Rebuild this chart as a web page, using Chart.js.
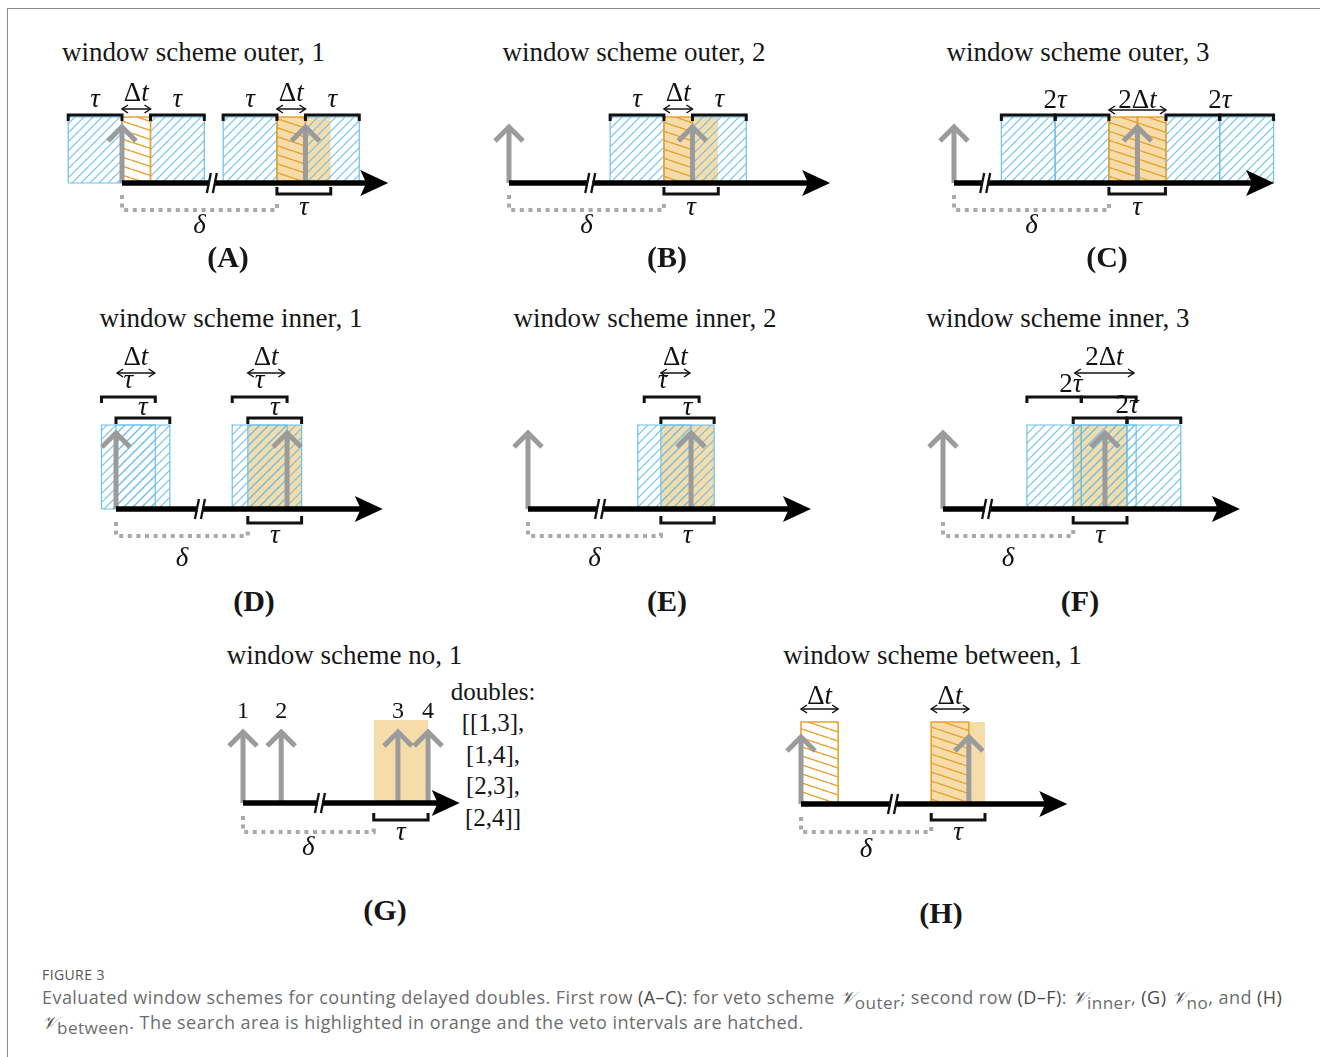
<!DOCTYPE html>
<html>
<head>
<meta charset="utf-8">
<title>Window schemes for delayed doubles</title>
<script src="https://cdn.jsdelivr.net/npm/chart.js@4.4.1/dist/chart.umd.min.js"></script>
<style>
  html, body { margin: 0; padding: 0; background: #fff; }
  #fig { position: relative; width: 1320px; height: 1057px; overflow: hidden; background: #fff; }
  #frame { position: absolute; left: 7px; top: 8px; width: 1320px; height: 1060px;
           border-left: 1px solid #8c8c8c; border-top: 1px solid #8c8c8c; }
  #fig canvas { position: absolute; }
  .title, .tag { position: absolute; line-height: 1; white-space: nowrap; transform: translateX(-50%);
                 font-family: "Liberation Serif", "DejaVu Serif", serif; color: #161616; }
  .tag { font-weight: bold; }
  #doubles { position: absolute; font-family: "Liberation Serif", serif; font-size: 25px; line-height: 31.5px;
             text-align: center; color: #161616; transform: translateX(-50%); white-space: nowrap; }
  #fignum { position: absolute; left: 42px; top: 968px; font-family: "Open Sans", sans-serif; font-size: 14px;
            line-height: 1; letter-spacing: 0.4px; color: #555; }
  #captext { position: absolute; left: 42px; top: 985px; width: 1270px; font-family: "Open Sans", sans-serif;
             font-size: 18px; letter-spacing: 0.45px; line-height: 24px; color: #6d6d6d; white-space: nowrap; }
  #captext b { font-weight: normal; color: #4a4a4a; }
  #captext .v { font-family: "DejaVu Serif", "Liberation Serif", serif; font-style: italic; color: #555; letter-spacing: 0; }
  #captext sub { font-size: 0.95em; vertical-align: -0.3em; line-height: 0; }
</style>
</head>
<body>
<div id="fig">
  <div id="frame"></div>
  <div id="doubles">doubles:<br>[[1,3],<br>[1,4],<br>[2,3],<br>[2,4]]</div>
  <div id="fignum">FIGURE 3</div>
  <div id="captext">Evaluated window schemes for counting delayed doubles. First row <b>(A–C)</b>: for veto scheme <span class="v">𝒱</span><sub>outer</sub>; second row <b>(D–F)</b>: <span class="v">𝒱</span><sub>inner</sub>, <b>(G)</b> <span class="v">𝒱</span><sub>no</sub>, and <b>(H)</b><br><span class="v">𝒱</span><sub>between</sub>. The search area is highlighted in orange and the veto intervals are hatched.</div>
</div>
<script>
// Times are given in units of the window length τ; the first event of every panel sits at t = 0.
// Spans are [start, end]; labelled spans are [start, end, text].

// (A) window scheme outer, 1
const outer1Events   = [0, 3.41];
const outer1Veto     = [[-1, 0], [0.53, 1.53], [1.88, 2.88], [3.41, 4.41]];
const outer1VetoDt   = [[0, 0.53], [2.88, 3.41]];
const outer1Search   = [[2.88, 3.88]];
const outer1Brackets = [[[-1, 0], [0.53, 1.53], [1.88, 2.88], [3.41, 4.41]]];
const outer1BracketLabels = [[[-1, 0, 'τ'], [0.53, 1.53, 'τ'], [1.88, 2.88, 'τ'], [3.41, 4.41, 'τ']]];
const outer1Dt       = [[0, 0.53, 'Δt'], [2.88, 3.41, 'Δt']];
const outer1Axis     = [0, 4.80];
const outer1Break    = 1.67;
const outer1Delay    = [0, 2.88];

// (B) window scheme outer, 2
const outer2Events   = [0, 3.41];
const outer2Veto     = [[1.88, 2.88], [3.41, 4.41]];
const outer2VetoDt   = [[2.88, 3.41]];
const outer2Search   = [[2.88, 3.89]];
const outer2Brackets = [[[1.88, 2.88], [3.41, 4.41]]];
const outer2BracketLabels = [[[1.88, 2.88, 'τ'], [3.41, 4.41, 'τ']]];
const outer2Dt       = [[2.88, 3.41, 'Δt']];
const outer2Axis     = [0, 5.82];
const outer2Break    = 1.51;
const outer2Delay    = [0, 2.88];

// (C) window scheme outer, 3
const outer3Events   = [0, 3.41];
const outer3Veto     = [[0.88, 1.88], [1.88, 2.88], [3.94, 4.94], [4.94, 5.94]];
const outer3VetoDt   = [[2.88, 3.41], [3.41, 3.94]];
const outer3Search   = [[2.88, 3.93]];
const outer3Brackets = [[[0.88, 1.88], [1.88, 2.88], [3.94, 4.94], [4.94, 5.94]]];
const outer3BracketLabels = [[[0.88, 2.88, '2τ'], [3.94, 5.94, '2τ']]];
const outer3Dt       = [[2.88, 3.94, '2Δt']];
const outer3Axis     = [0, 5.80];
const outer3Break    = 0.58;
const outer3Delay    = [0, 2.88];

// (D) window scheme inner, 1
const inner1Events   = [0, 3.18];
const inner1Veto     = [[-0.27, 0.73], [0, 1.0], [2.16, 3.18], [2.45, 3.45]];
const inner1VetoDt   = [];
const inner1Search   = [[2.45, 3.45]];
const inner1Brackets = [[[-0.27, 0.73], [2.16, 3.18]], [[0, 1.0], [2.45, 3.45]]];
const inner1BracketLabels = [[[-0.27, 0.73, 'τ'], [2.16, 3.18, 'τ']], [[0, 1.0, 'τ'], [2.45, 3.45, 'τ']]];
const inner1Dt       = [[0.02, 0.72, 'Δt'], [2.45, 3.13, 'Δt']];
const inner1Axis     = [0, 4.81];
const inner1Break    = 1.56;
const inner1Delay    = [0, 2.45];

// (E) window scheme inner, 2
const inner2Events   = [0, 3.03];
const inner2Veto     = [[2.04, 3.03], [2.47, 3.46]];
const inner2VetoDt   = [];
const inner2Search   = [[2.47, 3.46]];
const inner2Brackets = [[[2.16, 3.18]], [[2.47, 3.46]]];
const inner2BracketLabels = [[[2.0, 3.0, 'τ']], [[2.47, 3.46, 'τ']]];
const inner2Dt       = [[2.47, 3.01, 'Δt']];
const inner2Axis     = [0, 5.11];
const inner2Break    = 1.34;
const inner2Delay    = [0, 2.47];

// (F) window scheme inner, 3
const inner3Events   = [0, 3.01];
const inner3Veto     = [[1.56, 2.57], [2.57, 3.59], [2.42, 3.42], [3.42, 4.42]];
const inner3VetoDt   = [];
const inner3Search   = [[2.42, 3.42]];
const inner3Brackets = [[[1.56, 2.57], [2.57, 3.59]], [[2.42, 3.42], [3.42, 4.42]]];
const inner3BracketLabels = [[[1.36, 3.39, '2τ']], [[2.42, 4.42, '2τ']]];
const inner3Dt       = [[2.45, 3.55, '2Δt']];
const inner3Axis     = [0, 5.37];
const inner3Break    = 0.82;
const inner3Delay    = [0, 2.42];

// (G) window scheme no, 1
const noEvents       = [0, 0.71, 2.88, 3.44];
const noEventLabels  = ['1', '2', '3', '4'];
const noSearch       = [[2.43, 3.44]];
const noAxis         = [0, 3.88];
const noBreak        = 1.43;
const noDelay        = [0, 2.43];

// (H) window scheme between, 1
const betweenEvents  = [0, 3.12];
const betweenVetoDt  = [[0, 0.69], [2.42, 3.12]];
const betweenSearch  = [[2.42, 3.42]];
const betweenDt      = [[0, 0.69, 'Δt'], [2.42, 3.12, 'Δt']];
const betweenAxis    = [0, 4.80];
const betweenBreak   = 1.71;
const betweenDelay   = [0, 2.42];

// ---------------------------------------------------------------------------
// Drawing setup

const TAU_PX = 53.8;                 // pixels per τ on every time axis
const MATH_SIZE = 27;                // font size of the τ / Δt / δ labels
const BLUE = '#6cc0ea';
const ORANGE = '#e8a232';
const SEARCH_FILL = '#f6dca9';
const GREY = '#9b9b9b';
const DASH_GREY = '#a9a9a9';
const INK = '#111';

// Vertical placement of the drawing elements, in px above (+) / below (-) the time axis
const rowOuter = { rect: 66, tip: 56, br: [68], brText: [76], dt: 74, dtText: 82,
                   bot: -11, botText: -32, delay: -27, delayL: -12, delayR: -19, deltaText: -50 };
const rowOuter3 = Object.assign({}, rowOuter, { dt: 73, dtText: 75, brText: [75] });
const rowInner = { rect: 84, tip: 76, br: [112, 91], brText: [121, 94], dt: 136, dtText: 144,
                   bot: -14, botText: -34, delay: -27, delayL: -13, delayR: -19, deltaText: -57 };
const rowInner3 = Object.assign({}, rowInner, { brText: [117, 96] });
const rowNo = { rect: 83, tip: 71, numText: 85, br: [], brText: [], dt: 0, dtText: 0,
                bot: -17, botText: -37, delay: -29, delayL: -13, delayR: -21, deltaText: -52 };
const rowBetween = { rect: 82, tip: 67, br: [], brText: [], dt: 95, dtText: 100,
                     bot: -16, botText: -36, delay: -28, delayL: -13, delayR: -20, deltaText: -53 };

const panels = [
  { title: 'window scheme outer, 1', tag: '(A)', box: [50, 70, 350, 175], origin: 122, axisY: 183, g: rowOuter,
    titleAt: [193.5, 62], tagAt: [228, 267],
    events: outer1Events, veto: outer1Veto, vetoDt: outer1VetoDt, search: outer1Search,
    brackets: outer1Brackets, bracketLabels: outer1BracketLabels, dt: outer1Dt,
    axis: outer1Axis, breakAt: outer1Break, delay: outer1Delay },
  { title: 'window scheme outer, 2', tag: '(B)', box: [480, 70, 370, 175], origin: 509, axisY: 183, g: rowOuter,
    titleAt: [634, 62], tagAt: [667, 267],
    events: outer2Events, veto: outer2Veto, vetoDt: outer2VetoDt, search: outer2Search,
    brackets: outer2Brackets, bracketLabels: outer2BracketLabels, dt: outer2Dt,
    axis: outer2Axis, breakAt: outer2Break, delay: outer2Delay },
  { title: 'window scheme outer, 3', tag: '(C)', box: [925, 70, 372, 175], origin: 954, axisY: 183, g: rowOuter3,
    titleAt: [1078, 62], tagAt: [1107, 267],
    events: outer3Events, veto: outer3Veto, vetoDt: outer3VetoDt, search: outer3Search,
    brackets: outer3Brackets, bracketLabels: outer3BracketLabels, dt: outer3Dt,
    axis: outer3Axis, breakAt: outer3Break, delay: outer3Delay },
  { title: 'window scheme inner, 1', tag: '(D)', box: [80, 335, 320, 245], origin: 116, axisY: 509, g: rowInner,
    titleAt: [231, 328], tagAt: [254, 611],
    events: inner1Events, veto: inner1Veto, vetoDt: inner1VetoDt, search: inner1Search,
    brackets: inner1Brackets, bracketLabels: inner1BracketLabels, dt: inner1Dt,
    axis: inner1Axis, breakAt: inner1Break, delay: inner1Delay },
  { title: 'window scheme inner, 2', tag: '(E)', box: [495, 335, 330, 245], origin: 528, axisY: 509, g: rowInner,
    titleAt: [645, 328], tagAt: [667, 611],
    events: inner2Events, veto: inner2Veto, vetoDt: inner2VetoDt, search: inner2Search,
    brackets: inner2Brackets, bracketLabels: inner2BracketLabels, dt: inner2Dt,
    axis: inner2Axis, breakAt: inner2Break, delay: inner2Delay },
  { title: 'window scheme inner, 3', tag: '(F)', box: [910, 335, 345, 245], origin: 943, axisY: 509, g: rowInner3,
    titleAt: [1058, 328], tagAt: [1080, 611],
    events: inner3Events, veto: inner3Veto, vetoDt: inner3VetoDt, search: inner3Search,
    brackets: inner3Brackets, bracketLabels: inner3BracketLabels, dt: inner3Dt,
    axis: inner3Axis, breakAt: inner3Break, delay: inner3Delay },
  { title: 'window scheme no, 1', tag: '(G)', box: [220, 695, 260, 170], origin: 243, axisY: 803, g: rowNo,
    titleAt: [344.5, 665], tagAt: [385, 920],
    events: noEvents, eventLabels: noEventLabels, veto: [], vetoDt: [], search: noSearch,
    brackets: [], bracketLabels: [], dt: [],
    axis: noAxis, breakAt: noBreak, delay: noDelay },
  { title: 'window scheme between, 1', tag: '(H)', box: [775, 675, 310, 190], origin: 801, axisY: 804, g: rowBetween,
    titleAt: [932.5, 665], tagAt: [941, 923],
    events: betweenEvents, veto: [], vetoDt: betweenVetoDt, search: betweenSearch,
    brackets: [], bracketLabels: [], dt: betweenDt,
    axis: betweenAxis, breakAt: betweenBreak, delay: betweenDelay }
];

// ---------------------------------------------------------------------------
// Hatch patterns

function makePattern(w, h, color, lineW, segs) {
  const c = document.createElement('canvas');
  c.width = w; c.height = h;
  const x = c.getContext('2d');
  x.strokeStyle = color; x.lineWidth = lineW; x.lineCap = 'butt';
  segs.forEach(([x0, y0, x1, y1]) => { x.beginPath(); x.moveTo(x0, y0); x.lineTo(x1, y1); x.stroke(); });
  return x.createPattern(c, 'repeat');
}
// "/" hatching for veto windows
const bluePattern = makePattern(9, 9, BLUE, 1.1,
  [[-9, 9, 0, 0], [0, 9, 9, 0], [9, 9, 18, 0], [-2, 2, 2, -2], [7, 11, 11, 7]]);
// shallow "\" hatching for the Δt veto
const orangePattern = makePattern(27, 9, ORANGE, 1.1,
  [[-27, -9, 27, 9], [0, 0, 54, 18], [-27, 0, 27, 18], [0, -9, 54, 9]]);

// ---------------------------------------------------------------------------
// Text helpers (math labels: lowercase latin/greek letters in italic)

function drawMath(ctx, text, cx, baseY, size, upright) {
  const chars = [...text];
  const fontOf = ch => ((!upright && /[a-zα-ω]/.test(ch)) ? 'italic ' : '') + size + 'px "Liberation Serif", "DejaVu Serif", serif';
  let total = 0;
  const widths = chars.map(ch => { ctx.font = fontOf(ch); const w = ctx.measureText(ch).width; total += w; return w; });
  let x = cx - total / 2;
  ctx.textAlign = 'left';
  ctx.textBaseline = 'alphabetic';
  ctx.fillStyle = INK;
  chars.forEach((ch, i) => { ctx.font = fontOf(ch); ctx.fillText(ch, x, baseY); x += widths[i]; });
}

// Arrow heads, axis break and text labels
function decorations(labels, breakAt) {
  return {
    id: 'decorations',
    afterDatasetDraw(chart, args) {
      const ds = chart.data.datasets[args.index];
      if (!ds.deco) return;
      const pts = args.meta.data;
      const ctx = chart.ctx;
      const a = pts[0], b = pts[pts.length - 1];
      ctx.save();
      ctx.strokeStyle = ds.borderColor;
      ctx.fillStyle = ds.borderColor;
      ctx.lineWidth = ds.borderWidth;
      ctx.lineJoin = 'miter';
      ctx.lineCap = 'butt';
      if (ds.deco === 'chevron') {
        ctx.beginPath();
        ctx.moveTo(b.x - 14, b.y + 14);
        ctx.lineTo(b.x, b.y);
        ctx.lineTo(b.x + 14, b.y + 14);
        ctx.stroke();
      } else if (ds.deco === 'stealth') {
        ctx.beginPath();
        ctx.moveTo(b.x + 8, b.y);
        ctx.lineTo(b.x - 20, b.y - 13);
        ctx.lineTo(b.x - 14, b.y);
        ctx.lineTo(b.x - 20, b.y + 13);
        ctx.closePath();
        ctx.fill();
      } else if (ds.deco === 'both') {
        ctx.beginPath();
        ctx.moveTo(a.x + 6, a.y - 4); ctx.lineTo(a.x, a.y); ctx.lineTo(a.x + 6, a.y + 4);
        ctx.moveTo(b.x - 6, b.y - 4); ctx.lineTo(b.x, b.y); ctx.lineTo(b.x - 6, b.y + 4);
        ctx.stroke();
      }
      ctx.restore();
    },
    afterDatasetsDraw(chart) {
      const ctx = chart.ctx;
      const sx = chart.scales.x, sy = chart.scales.y;
      // axis break "//"
      const bx = sx.getPixelForValue(breakAt), by = sy.getPixelForValue(0);
      ctx.save();
      ctx.fillStyle = '#fff';
      ctx.fillRect(bx - 2.4, by - 4, 4.8, 8);
      ctx.strokeStyle = INK; ctx.lineWidth = 2.3;
      [-3, 3].forEach(off => {
        ctx.beginPath();
        ctx.moveTo(bx + off - 2, by + 10);
        ctx.lineTo(bx + off + 2, by - 10);
        ctx.stroke();
      });
      ctx.restore();
      // labels
      labels.forEach(l => drawMath(ctx, l.text, sx.getPixelForValue(l.x), sy.getPixelForValue(l.y), l.size || MATH_SIZE, l.upright));
    }
  };
}

// ---------------------------------------------------------------------------
// Build one chart per panel

const fig = document.getElementById('fig');
const mid = s => (s[0] + s[1]) / 2;
const clear = 'rgba(0,0,0,0)';

function addText(cls, text, at, size) {
  const d = document.createElement('div');
  d.className = cls;
  d.textContent = text;
  d.style.fontSize = size + 'px';
  d.style.left = at[0] + 'px';
  d.style.top = (at[1] - 0.8375 * size) + 'px';
  fig.appendChild(d);
}

function buildPanel(p) {
  const [left, top, w, h] = p.box;
  const g = p.g;
  const cv = document.createElement('canvas');
  cv.width = w; cv.height = h;
  cv.style.left = left + 'px'; cv.style.top = top + 'px';
  cv.style.width = w + 'px'; cv.style.height = h + 'px';
  fig.appendChild(cv);

  const ds = [];
  const outline = (a, b, hh) => [{ x: a, y: 0 }, { x: a, y: hh }, { x: b, y: hh }, { x: b, y: 0 }, { x: a, y: 0 }];
  const topEdge = (a, b, hh) => [{ x: a, y: hh }, { x: b, y: hh }];

  // search area (orange)
  p.search.forEach(s => ds.push({ data: topEdge(s[0], s[1], g.rect), fill: 'origin',
    backgroundColor: SEARCH_FILL, borderColor: clear, borderWidth: 1, order: 60 }));
  // veto windows (blue hatched)
  p.veto.forEach(s => {
    ds.push({ data: topEdge(s[0], s[1], g.rect), fill: 'origin', backgroundColor: bluePattern,
      borderColor: clear, borderWidth: 1, order: 50 });
    ds.push({ data: outline(s[0], s[1], g.rect), fill: false, borderColor: BLUE, borderWidth: 1.2, order: 48 });
  });
  // Δt veto (orange hatched)
  p.vetoDt.forEach(s => {
    ds.push({ data: topEdge(s[0], s[1], g.rect), fill: 'origin', backgroundColor: orangePattern,
      borderColor: clear, borderWidth: 1, order: 42 });
    ds.push({ data: outline(s[0], s[1], g.rect), fill: false, borderColor: ORANGE, borderWidth: 1.6, order: 40 });
  });
  // delay δ
  ds.push({ data: [{ x: p.delay[0], y: g.delayL }, { x: p.delay[0], y: g.delay },
                   { x: p.delay[1], y: g.delay }, { x: p.delay[1], y: g.delayR }],
    fill: false, borderColor: DASH_GREY, borderWidth: 4, borderDash: [4, 4.6], order: 30 });
  // events
  p.events.forEach(t => ds.push({ data: [{ x: t, y: 0 }, { x: t, y: g.tip }], fill: false,
    borderColor: GREY, borderWidth: 5, deco: 'chevron', order: 22 }));
  // time axis
  ds.push({ data: [{ x: p.axis[0], y: 0 }, { x: p.axis[1], y: 0 }], fill: false,
    borderColor: '#000', borderWidth: 5.5, deco: 'stealth', order: 20 });
  // window brackets above
  p.brackets.forEach((level, i) => level.forEach(s => ds.push({
    data: [{ x: s[0], y: g.br[i] - 6 }, { x: s[0], y: g.br[i] }, { x: s[1], y: g.br[i] }, { x: s[1], y: g.br[i] - 6 }],
    fill: false, borderColor: INK, borderWidth: 3, order: 15 })));
  // search bracket below
  p.search.forEach(s => ds.push({
    data: [{ x: s[0], y: g.bot + 7 }, { x: s[0], y: g.bot }, { x: s[1], y: g.bot }, { x: s[1], y: g.bot + 7 }],
    fill: false, borderColor: INK, borderWidth: 3, order: 15 }));
  // Δt double arrows
  p.dt.forEach(s => ds.push({ data: [{ x: s[0], y: g.dt }, { x: s[1], y: g.dt }], fill: false,
    borderColor: INK, borderWidth: 1.5, deco: 'both', order: 14 }));

  const labels = [];
  p.bracketLabels.forEach((level, i) => level.forEach(s => labels.push({ x: mid(s), y: g.brText[i], text: s[2] })));
  p.dt.forEach(s => labels.push({ x: mid(s), y: g.dtText, text: s[2] }));
  p.search.forEach(s => labels.push({ x: mid(s), y: g.botText, text: 'τ' }));
  labels.push({ x: mid(p.delay), y: g.deltaText, text: 'δ' });
  if (p.eventLabels) p.events.forEach((t, i) => labels.push({ x: t, y: g.numText, text: p.eventLabels[i], upright: true, size: 24 }));

  new Chart(cv, {
    type: 'line',
    data: { datasets: ds },
    options: {
      responsive: false,
      animation: false,
      devicePixelRatio: 1,
      events: [],
      layout: { padding: 0 },
      elements: { point: { radius: 0, hoverRadius: 0 }, line: { tension: 0 } },
      plugins: { legend: { display: false }, tooltip: { enabled: false }, title: { display: false } },
      scales: {
        x: { type: 'linear', display: false, min: (left - p.origin) / TAU_PX, max: (left + w - p.origin) / TAU_PX },
        y: { type: 'linear', display: false, min: -(top + h - p.axisY), max: p.axisY - top }
      }
    },
    plugins: [decorations(labels, p.breakAt)]
  });

  addText('title', p.title, p.titleAt, 27);
  addText('tag', p.tag, p.tagAt, 30);
}

panels.forEach(buildPanel);

// "doubles" list next to panel G
const dbl = document.getElementById('doubles');
dbl.style.left = '493px';
dbl.style.top = (700 - 0.8375 * 25 - (31.5 - 25) / 2) + 'px';
</script>
</body>
</html>
